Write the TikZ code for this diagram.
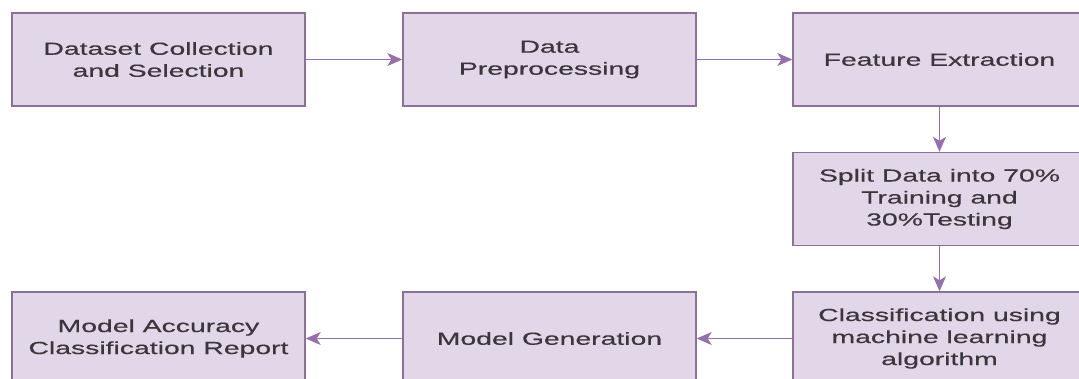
\documentclass[tikz,border=0pt]{standalone}
\usepackage{fontspec}
\setmainfont[FakeStretch=1.62, FakeBold=0.4]{Liberation Sans}
\usetikzlibrary{arrows.meta}
\definecolor{boxfill}{RGB}{226,214,233}
\definecolor{boxline}{RGB}{140,112,152}
\definecolor{arrowline}{RGB}{150,112,172}
\definecolor{txt}{RGB}{58,54,60}
\tikzset{
  stepbox/.style={draw=boxline, line width=1.4pt, fill=boxfill,
    minimum width=293pt, minimum height=93pt, inner sep=0pt,
    align=center, text=txt, font=\fontsize{17.5}{22}\selectfont},
  flow/.style={draw=arrowline, line width=1.3pt,
    -{Stealth[length=15pt, width=13pt, inset=4pt]}}
}
\begin{document}
\begin{tikzpicture}[x=1pt, y=-1pt]
  \useasboundingbox (0,0) rectangle (1079,378);
  \clip (0,0) rectangle (1079,378);
  % top row
  \node[stepbox] (collect) at (158.5,59.5) {Dataset Collection\\and Selection};
  \node[stepbox] (prep) at (549.5,59.5) {Data\\Preprocessing};
  \node[stepbox] (feat) at (939.5,59.5) {Feature Extraction};
  % right column
  \node[stepbox] (split) at (939.5,199) {Split Data into 70\%\\Training and\\30\%Testing};
  \node[stepbox] (classify) at (939.5,338.5) {Classification using\\machine learning\\algorithm};
  % bottom row
  \node[stepbox] (gen) at (549.5,338.5) {Model Generation};
  \node[stepbox] (report) at (158.5,338.5) {Model Accuracy\\Classification Report};
  % connectors
  \draw[flow] (collect) -- (prep);
  \draw[flow] (prep) -- (feat);
  \draw[flow] (feat) -- (split);
  \draw[flow] (split) -- (classify);
  \draw[flow] (classify) -- (gen);
  \draw[flow] (gen) -- (report);
\end{tikzpicture}
\end{document}
